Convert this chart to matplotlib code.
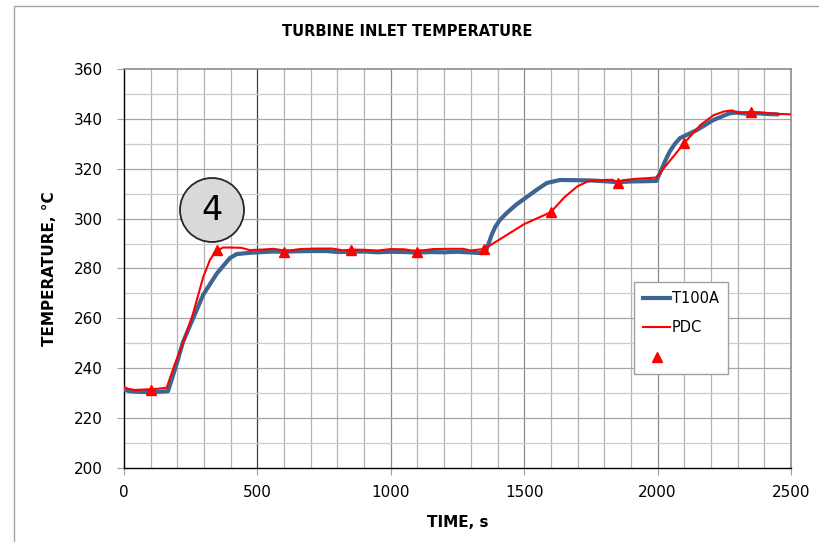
import matplotlib
matplotlib.use("Agg")
import matplotlib.pyplot as plt
from matplotlib.lines import Line2D
from matplotlib.patches import Circle, Rectangle
from matplotlib.transforms import IdentityTransform

# T100A measured turbine inlet temperature (time s, temperature degC)
t100a_time = [0, 20, 60, 120, 165, 198, 221, 259, 297, 348, 397, 423, 472,
              520, 560, 600, 650, 700, 760, 800, 850, 900, 950, 1000, 1050,
              1100, 1150, 1200, 1250, 1300, 1340, 1355, 1365, 1378, 1392,
              1410, 1435, 1470, 1510, 1550, 1585, 1634, 1700, 1750, 1800,
              1850, 1900, 1950, 1995, 2009, 2030, 2046, 2065, 2084, 2147,
              2208, 2271, 2295, 2330, 2380, 2420, 2451]
t100a_temp = [231.5, 230.8, 230.5, 230.5, 230.8, 242.0, 250.5, 260.0, 269.5,
              278.0, 284.2, 285.8, 286.3, 286.6, 286.8, 286.7, 286.9, 287.0,
              287.0, 286.6, 286.7, 286.8, 286.5, 286.7, 286.6, 286.4, 286.6,
              286.5, 286.7, 286.4, 286.2, 286.6, 289.5, 293.5, 296.8, 299.6,
              302.3, 305.6, 308.7, 311.8, 314.3, 315.5, 315.4, 315.3, 315.0,
              314.6, 314.9, 315.0, 315.1, 318.3, 323.5, 327.0, 330.0, 332.3,
              335.5, 339.5, 342.3, 342.5, 342.1, 342.2, 341.9, 341.8]

# PDC simulated temperature
pdc_time = [0, 15, 40, 80, 100, 130, 160, 190, 221, 259, 297, 322, 341, 371,
            400, 440, 470, 520, 560, 590, 620, 660, 720, 780, 820, 860, 900,
            950, 1000, 1050, 1080, 1120, 1160, 1220, 1270, 1300, 1330, 1350,
            1500, 1600, 1650, 1700, 1740, 1800, 1830, 1850, 1870, 1920, 1960,
            1995, 2100, 2160, 2210, 2250, 2280, 2300, 2350, 2400, 2450, 2500]
pdc_temp = [232.5, 231.8, 231.3, 231.5, 231.6, 231.8, 232.2, 241.5, 250.0,
            262.0, 276.6, 283.4, 286.6, 288.4, 288.4, 288.3, 287.4, 287.6,
            287.9, 287.4, 287.2, 287.8, 288.0, 288.0, 287.3, 287.6, 287.5,
            287.2, 287.8, 287.7, 287.2, 287.3, 287.8, 287.9, 287.9, 287.2,
            287.6, 287.8, 297.8, 302.6, 308.5, 313.0, 315.0, 315.5, 315.6,
            314.6, 315.4, 316.0, 316.2, 316.5, 330.3, 337.5, 341.5, 343.0,
            343.4, 342.4, 342.8, 342.4, 342.0, 341.8]

# PDC sampled points
marker_time = [100, 350, 600, 850, 1100, 1350, 1600, 1850, 2100, 2350]
marker_temp = [231.4, 287.4, 286.8, 287.4, 286.8, 287.8, 302.6, 314.3, 330.3, 342.7]

x_ticks = [0, 500, 1000, 1500, 2000, 2500]
y_ticks = [200, 220, 240, 260, 280, 300, 320, 340, 360]

W, H = 819, 542
fig = plt.figure(figsize=(W / 100, H / 100), dpi=100)
ax = fig.add_axes([124 / W, 1 - 468 / H, 667 / W, 399 / H])

# outer chart frame
fig.patches.append(Rectangle((14 / W, -0.1), 1.2, 1 - 6 / H + 0.1,
                             transform=fig.transFigure, fill=False,
                             edgecolor="#a6a6a6", linewidth=1.0))

ax.set_xlim(0, 2500)
ax.set_ylim(200, 360)

# grid
for x in range(100, 2500, 100):
    if x == 500:
        col = "#404040"
    elif x % 500 == 0:
        col = "#8c8c8c"
    else:
        col = "#b4b4b4"
    ax.axvline(x, color=col, linewidth=0.9, zorder=1)
for y in range(210, 360, 10):
    col = "#a6a6a6" if y % 20 == 0 else "#cccccc"
    ax.axhline(y, color=col, linewidth=0.9, zorder=1)

ax.plot(t100a_time, t100a_temp, color="#3c6592", linewidth=3.0,
        solid_capstyle="round", solid_joinstyle="round", zorder=3)
ax.plot(pdc_time, pdc_temp, color="#ff0000", linewidth=1.5, zorder=4)
ax.plot(marker_time, marker_temp, linestyle="none", marker="^",
        markersize=6.5, color="#ff0000", zorder=5)

ax.set_xticks(x_ticks)
ax.set_yticks(y_ticks)
ax.tick_params(axis="both", labelsize=11, colors="#000000", length=5,
               width=0.8, direction="out", color="#a0a0a0", pad=7)
ax.tick_params(axis="y", pad=10)

for side in ("left", "bottom"):
    ax.spines[side].set_color("black")
    ax.spines[side].set_linewidth(1.0)
for side in ("right", "top"):
    ax.spines[side].set_color("#8c8c8c")
    ax.spines[side].set_linewidth(1.2)

fig.text(407 / W, 1 - 31 / H, "TURBINE INLET TEMPERATURE", fontsize=10.5,
         fontweight="bold", ha="center", va="center")
ax.set_xlabel("TIME, s", fontsize=11, fontweight="bold", labelpad=11)
ax.set_ylabel("TEMPERATURE, \u00b0C", fontsize=11, fontweight="bold",
              labelpad=12)

# step marker
fig.patches.append(Circle((212, H - 210), 32, transform=IdentityTransform(),
                          facecolor="#d9d9d9", edgecolor="#262626",
                          linewidth=1.3, zorder=6))
fig.text(212 / W, 1 - 211 / H, "4", fontsize=24, ha="center",
         va="center", zorder=7)

handles = [Line2D([], [], color="#3c6592", linewidth=3.0),
           Line2D([], [], color="#ff0000", linewidth=1.5),
           Line2D([], [], linestyle="none", marker="^", markersize=6.5,
                  color="#ff0000")]
leg = ax.legend(handles, ["T100A", "PDC", " "], loc="upper left",
                bbox_to_anchor=((634 - 124) / 667, (468 - 282) / 399),
                fontsize=10.5, frameon=True, fancybox=False,
                edgecolor="#a0a0a0", framealpha=1, handlelength=1.9,
                handletextpad=0.1, labelspacing=1.0, borderpad=0.6,
                borderaxespad=0)
leg.get_frame().set_linewidth(1.0)
leg.set_zorder(8)

fig.savefig("out.png", dpi=100)
